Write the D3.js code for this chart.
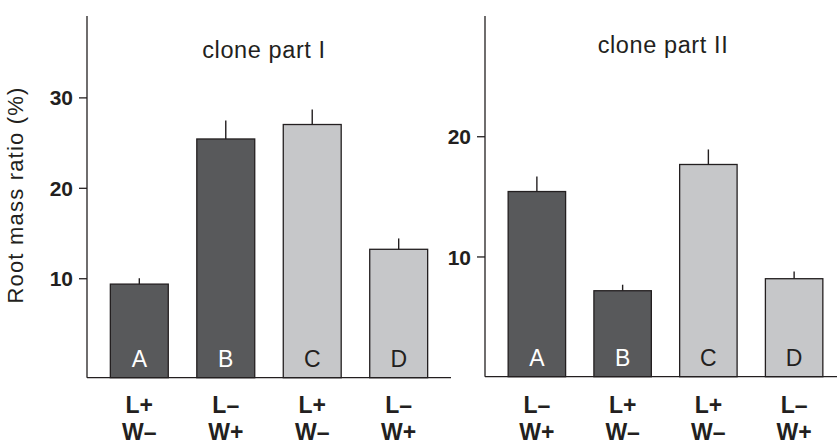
<!DOCTYPE html>
<html><head><meta charset="utf-8">
<script src="https://cdn.jsdelivr.net/npm/d3@7"></script>
<style>body{margin:0;background:#fff}svg{display:block}text{font-family:"Liberation Sans",Arial,Helvetica,sans-serif;fill:#231f20}</style>
</head><body>
<svg id="chart" width="837" height="444"></svg>
<script>
// ---- data ----
const letters = ["A", "B", "C", "D"];
const labelsL1 = [["L+", "W–"], ["L–", "W+"], ["L+", "W–"], ["L–", "W+"]];
const labelsL2 = [["L–", "W+"], ["L+", "W–"], ["L+", "W–"], ["L–", "W+"]];
const valuesP1 = [9.35, 25.4, 27.0, 13.2];
const errTopP1 = [10.0, 27.45, 28.65, 14.4];
const valuesP2 = [15.4, 7.15, 17.65, 8.15];
const errTopP2 = [16.65, 7.65, 18.9, 8.75];
const ticksP1 = [10, 20, 30];
const ticksP2 = [10, 20];
const shades = ["dark", "dark", "light", "light"];
const titles = ["clone part I", "clone part II"];
const yTitle = "Root mass ratio (%)";

const fill = {dark: "#58595b", light: "#c6c7c9"};
const letterFill = {dark: "#ffffff", light: "#231f20"};
const ink = "#231f20";

const svg = d3.select("#chart");

function panel(cfg) {
  const g = svg.append("g");
  const x = d3.scaleBand().domain(letters).range(cfg.xr).paddingInner(0.33).paddingOuter(0.27);
  const y = d3.scaleLinear().domain(cfg.yd).range([cfg.base, 16]);
  const y0 = y(cfg.yd[0]);

  // bars
  g.selectAll("rect.bar").data(letters).join("rect")
    .attr("x", d => x(d)).attr("width", x.bandwidth())
    .attr("y", (d, i) => y(cfg.values[i]))
    .attr("height", (d, i) => y0 - y(cfg.values[i]))
    .attr("fill", (d, i) => fill[shades[i]])
    .attr("stroke", ink).attr("stroke-width", 1.3);

  // error bars (upper only)
  g.selectAll("line.err").data(letters).join("line")
    .attr("x1", d => x(d) + x.bandwidth() / 2).attr("x2", d => x(d) + x.bandwidth() / 2)
    .attr("y1", (d, i) => y(cfg.values[i])).attr("y2", (d, i) => y(cfg.err[i]))
    .attr("stroke", ink).attr("stroke-width", 1.4);

  // letters inside bars
  g.selectAll("text.letter").data(letters).join("text")
    .attr("x", d => x(d) + x.bandwidth() / 2).attr("y", y0 - 11)
    .attr("text-anchor", "middle").attr("font-size", 23)
    .style("fill", (d, i) => letterFill[shades[i]])
    .text(d => d);

  // baseline
  g.append("line").attr("x1", cfg.xr[0]).attr("x2", cfg.xr[1])
    .attr("y1", y0).attr("y2", y0).attr("stroke", ink).attr("stroke-width", 1.3);

  // y axis
  const ax = g.append("g").attr("transform", `translate(${cfg.xr[0]},0)`)
    .call(d3.axisLeft(y).tickValues(cfg.ticks).tickSize(8).tickPadding(6).tickFormat(d3.format("d")));
  ax.select(".domain").attr("d", `M0,${y0}V16`).attr("stroke", ink).attr("stroke-width", 1.3);
  ax.selectAll(".tick line").attr("stroke", ink).attr("stroke-width", 1.3);
  ax.selectAll(".tick text").attr("font-size", 21).attr("font-weight", "bold")
    .attr("font-family", "Liberation Sans, Arial, sans-serif").style("fill", ink).attr("dy", "0.36em");

  // category labels
  const lab = g.selectAll("text.cat").data(letters).join("text")
    .attr("text-anchor", "middle").attr("font-size", 23).attr("font-weight", "bold");
  lab.append("tspan").attr("x", d => x(d) + x.bandwidth() / 2).attr("y", 412.5)
    .text((d, i) => cfg.labels[i][0]);
  lab.append("tspan").attr("x", d => x(d) + x.bandwidth() / 2).attr("y", 440)
    .text((d, i) => cfg.labels[i][1]);

  // title
  g.append("text").attr("x", cfg.titleX).attr("y", cfg.titleY).attr("text-anchor", "middle")
    .attr("font-size", 23.5).attr("letter-spacing", 0.6).text(cfg.title);
}

panel({xr: [87, 451], yd: [-1, 39], base: 377.7, values: valuesP1, err: errTopP1, ticks: ticksP1,
       labels: labelsL1, title: titles[0], titleX: 264, titleY: 57.7});
panel({xr: [485, 846], yd: [0, 30], base: 376.7, values: valuesP2, err: errTopP2, ticks: ticksP2,
       labels: labelsL2, title: titles[1], titleX: 663, titleY: 52.7});

// y axis title
svg.append("text").attr("transform", "translate(23,195) rotate(-90)")
  .attr("text-anchor", "middle").attr("font-size", 22).attr("letter-spacing", 1.2)
  .text(yTitle);
</script>
</body></html>
